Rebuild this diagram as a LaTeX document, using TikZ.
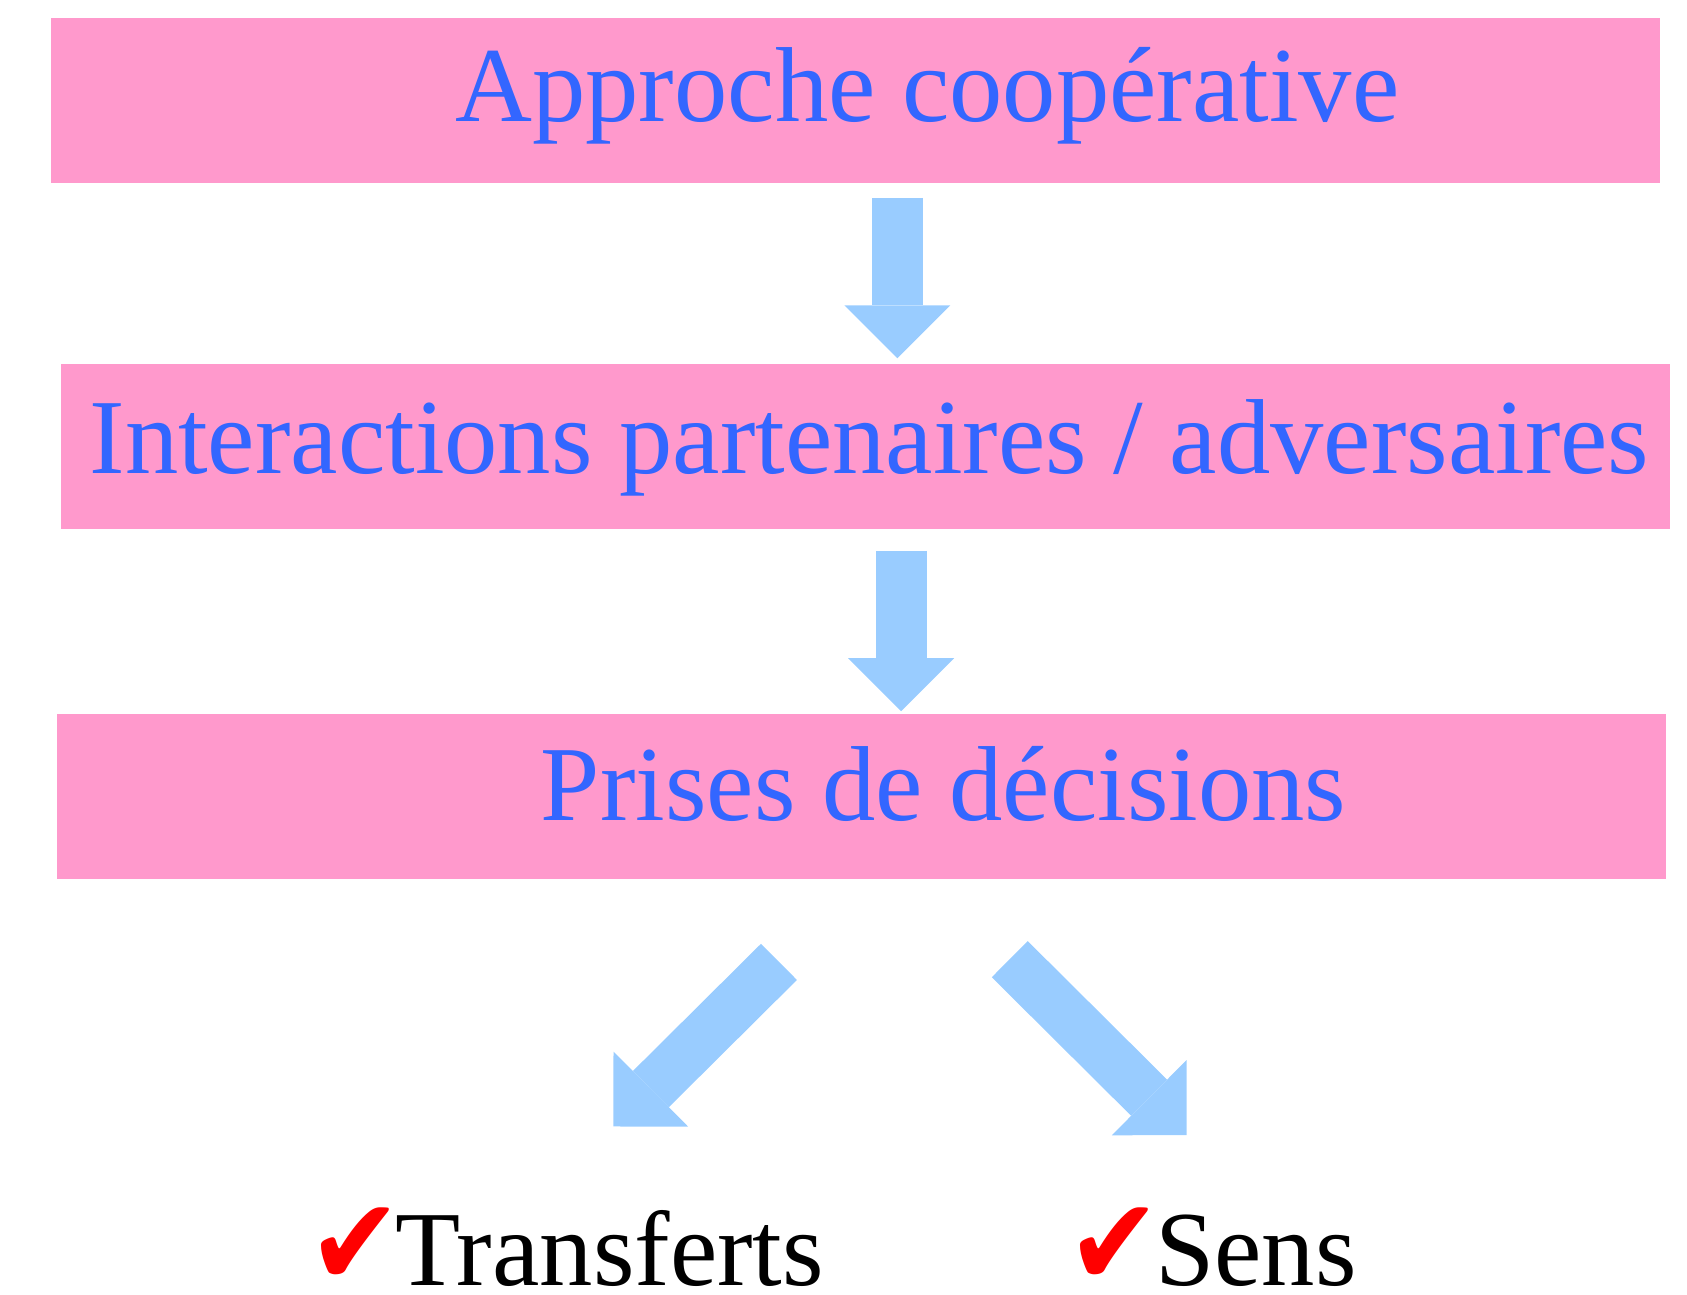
\documentclass[tikz,border=0pt]{standalone}
\usepackage{fontspec}
\setmainfont{Liberation Serif}
\newfontfamily\checkfont{DejaVu Sans}
\usetikzlibrary{arrows.meta}

\definecolor{boxpink}{HTML}{FF99CC}
\definecolor{textblue}{HTML}{3366FF}
\definecolor{arrowblue}{HTML}{99CCFF}

\newcommand{\checkmk}{{\checkfont\color{red}\fontsize{56}{60}\selectfont\scalebox{1}[1.1]{✔}}\kern-3.2pt}

\tikzset{
  box/.style={rectangle, fill=boxpink, inner sep=0pt, minimum width=804.5pt, minimum height=82.6pt},
  bluetext/.style={inner sep=0pt, anchor=base, text=textblue, font=\fontsize{53.3}{58}\selectfont},
  result/.style={inner sep=0pt, anchor=base west, font=\fontsize{53.3}{58}\selectfont},
  blockarrow/.style={draw=arrowblue, line width=25.5pt, line cap=butt,
    -{Triangle[length=26.5pt, width=53pt, line width=0pt]}}
}

\begin{document}
\begin{tikzpicture}[x=0.538pt, y=-0.538pt]
    \useasboundingbox (0,0) rectangle (1568,1203.6);

    % boxes
    \node (approche) [box] at (795.5,93.5) {};
    \node (interact) [box] at (804.5,415) {};
    \node (prises) [box] at (801,740) {};

    \node (t1) [bluetext] at (862,113) {Approche coopérative};
    \node (t2) [bluetext] at (808,440) {Interactions partenaires / adversaires};
    \node (t3) [bluetext] at (877,763) {Prises de décisions};

    % results
    \node (transferts) [result] at (286,1195) {\checkmk Transferts};
    \node (sens) [result] at (992,1195) {\checkmk Sens};

    % arrows
    \coordinate (a1s) at (834,184);
    \coordinate (a1e) at (834,333);
    \coordinate (a2s) at (837.5,512);
    \coordinate (a2e) at (837.5,661);
    \coordinate (l1s) at (724,894);
    \coordinate (l1e) at (570,1047);
    \coordinate (r1s) at (938.5,891.5);
    \coordinate (r1e) at (1103,1055);

    \draw [blockarrow] (a1s) -- (a1e);
    \draw [blockarrow] (a2s) -- (a2e);
    \draw [blockarrow] (l1s) -- (l1e);
    \draw [blockarrow] (r1s) -- (r1e);
\end{tikzpicture}
\end{document}
